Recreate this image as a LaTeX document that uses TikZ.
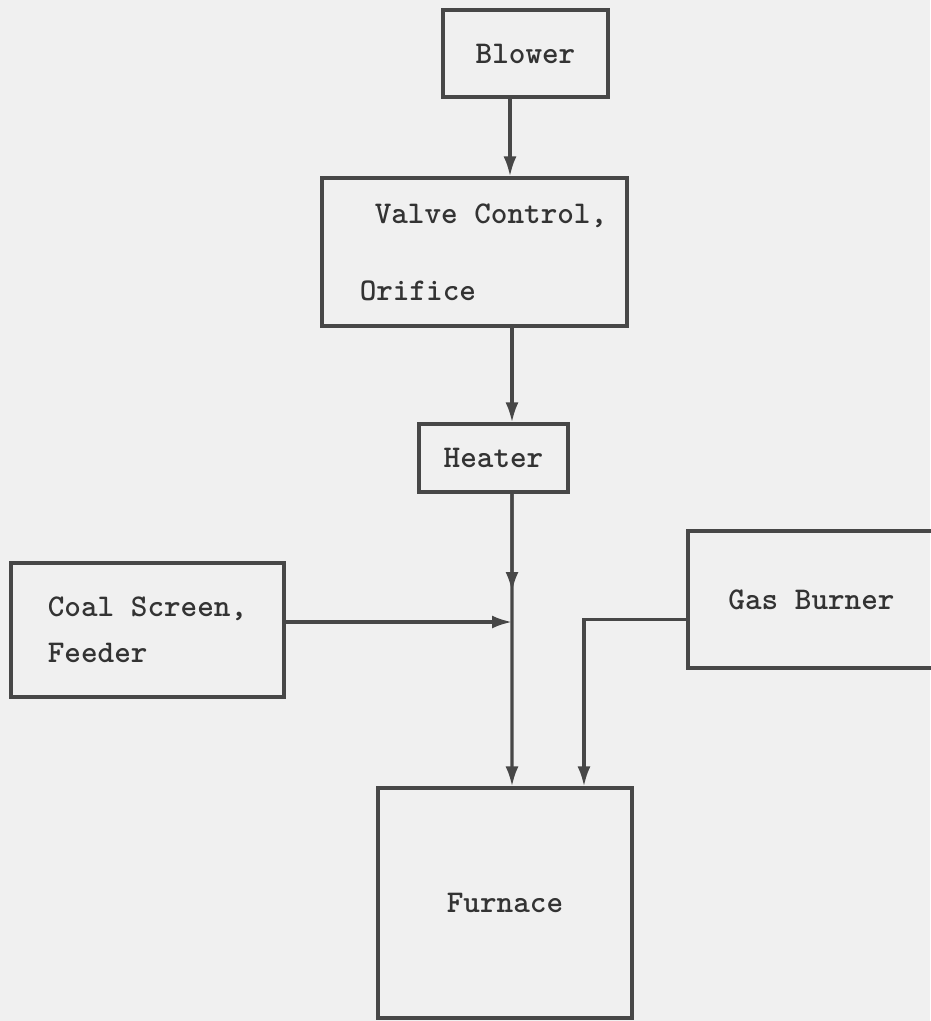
\documentclass[tikz,border=0pt]{standalone}
\usepackage{fontspec}
\usepackage{tikz}
\usetikzlibrary{arrows.meta}
\usetikzlibrary{positioning,calc}
\tikzset{
    box/.style={
        draw=black!72,
        rectangle,
        line width=1.8pt,
        inner sep=0pt,
        align=left,
        text=black!80,
        font=\ttfamily\bfseries\fontsize{18}{22}\selectfont
    },
    flow/.style={
        draw=black!72,
        line width=1.8pt,
        -{Latex[length=0.4cm, width=0.26cm]}
    }
}

\begin{document}
\begin{tikzpicture}[x=0.02cm, y=-0.02cm]
  % Paper background
  \fill[black!6] (0,0) rectangle (930,1021);
  \useasboundingbox (0,0) rectangle (930,1021);

  % Create boxes
  \node[box, minimum width=3.3cm, minimum height=1.74cm] (blower) at (525.5,53.5) {Blower};
  \node[box, minimum width=6.1cm, minimum height=2.96cm] (valve) at (474.5,252)
    {\hspace*{0.66cm}Valve Control,\\[22pt]\hspace*{0.36cm}Orifice};
  \node[box, minimum width=2.98cm, minimum height=1.36cm] (heater) at (493.5,458) {Heater};
  \node[box, minimum width=5.46cm, minimum height=2.68cm] (coal) at (147.5,630)
    {Coal Screen,\\[4pt]Feeder};
  \node[box, minimum width=4.94cm, minimum height=2.74cm] (gas) at (811.5,599.5) {Gas Burner};
  \node[box, minimum width=5.08cm, minimum height=4.6cm] (furnace) at (505,903) {Furnace};

  % Points on the main line
  \coordinate (mid) at (512,592);
  \coordinate (join) at (512,622);

  % Connect boxes
  \draw[flow] ([xshift=-0.31cm]blower.south) -- ([xshift=-0.31cm]blower.south |- valve.north);
  \draw[flow] ([xshift=0.75cm]valve.south) -- ([xshift=0.75cm]valve.south |- heater.north);
  \draw[flow] ([xshift=0.37cm]heater.south) -- ([xshift=0.14cm]furnace.north);
  \draw[flow] ([xshift=0.37cm]heater.south) -- (mid);
  \draw[flow] (coal.east |- join) -- (join);
  \draw[flow] ([yshift=-0.4cm]gas.west) -| ([xshift=1.58cm]furnace.north);
\end{tikzpicture}
\end{document}
